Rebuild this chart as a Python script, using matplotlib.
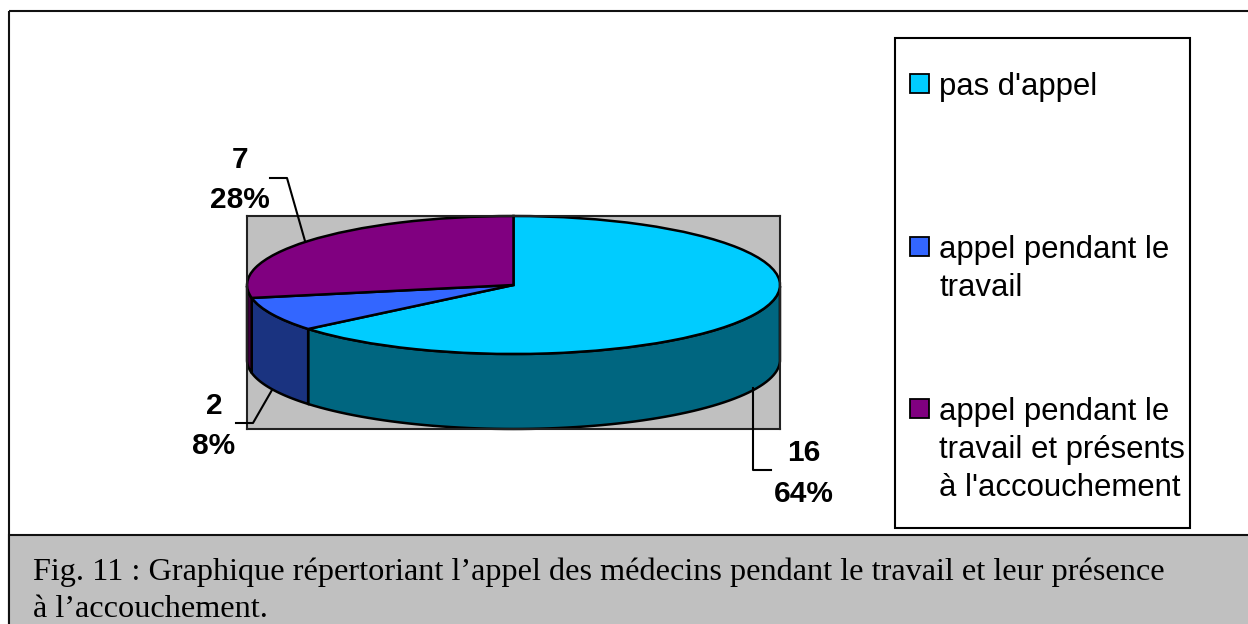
import numpy as np
import matplotlib
matplotlib.use('Agg')
import matplotlib.pyplot as plt
from matplotlib.patches import Rectangle

W, H = 1248, 624

# data
labels = ["pas d'appel", "appel pendant le\ntravail", "appel pendant le\ntravail et présents\nà l'accouchement"]
values = [16, 2, 7]
percents = ['64%', '8%', '28%']
caption = ["Fig. 11 : Graphique répertoriant l’appel des médecins pendant le travail et leur présence",
           "à l’accouchement."]

top_colors = ['#00CCFF', '#3366FF', '#800080']
side_colors = ['#006680', '#1A3380', '#400040']
GRAY = '#C0C0C0'
SANS = 'Liberation Sans'
SERIF = 'Liberation Serif'

fig = plt.figure(figsize=(W / 100, H / 100), dpi=100, facecolor='white')

# pie box in pixels
x0, x1, y0, y1 = 247, 780, 216, 429
cy, ry = 285, 69
depth = 75 / ry
ax = fig.add_axes([x0 / W, 1 - y1 / H, (x1 - x0) / W, (y1 - y0) / H], zorder=1)
ax.pie(values, colors=top_colors, startangle=90, counterclock=False, radius=1,
       wedgeprops={'edgecolor': 'black', 'linewidth': 1.8})
ax.set_aspect('auto')
ax.set_xlim(-1, 1)
ax.set_ylim(-(y1 - cy) / ry, (cy - y0) / ry)
ax.set_frame_on(True)
ax.set_facecolor(GRAY)
for s in ax.spines.values():
    s.set_linewidth(1.5)
    s.set_color('#222222')
ax.set_xticks([])
ax.set_yticks([])

# side wall, visible only on the lower half of the ellipse
start = 90.0
for v, c in zip(values, side_colors):
    end = start - 360.0 * v / sum(values)
    a = np.radians(np.linspace(start, end, 120)) % (2 * np.pi)
    a = a[a >= np.pi]
    if len(a) > 1:
        a = np.sort(a)
        xs = np.cos(a)
        ys = np.sin(a)
        ax.fill(np.r_[xs, xs[::-1]], np.r_[ys, ys[::-1] - depth], facecolor=c,
                edgecolor='black', linewidth=1.8, zorder=0.5, clip_on=False)
    start = end

# everything else, in pixel coordinates
ov = fig.add_axes([0, 0, 1, 1], zorder=2)
ov.set_xlim(0, W)
ov.set_ylim(H, 0)
ov.axis('off')

# outer frame and caption band
ov.add_patch(Rectangle((8.5, 10.5), W, H, facecolor='none', edgecolor='#111111', linewidth=1.5))
ov.add_patch(Rectangle((8.5, 535), W, H, facecolor=GRAY, edgecolor='#111111', linewidth=1.5))
for line, yb in zip(caption, [580, 617]):
    ov.text(33, yb, line, family=SERIF, fontsize=23.2, color='black', va='baseline', ha='left')

# legend box
ov.add_patch(Rectangle((895, 38), 295, 490, facecolor='white', edgecolor='black', linewidth=1.5))
legend_y = [84, 247, 409]
for lab, c, yc in zip(labels, top_colors, legend_y):
    ov.add_patch(Rectangle((909.5, yc - 10), 19, 19, facecolor=c, edgecolor='black', linewidth=1.3))
    for i, part in enumerate(lab.split('\n')):
        ov.text(939, yc + 11 + 38 * i, part, family=SANS, fontsize=22.4, color='black',
                va='baseline', ha='left')

# data labels and leader lines
label_pos = [(804, 453, 494), (214, 406, 446), (240, 160, 200)]
leaders = [([753, 753, 771], [388, 470, 470]),
           ([236, 253, 272], [423, 423, 390]),
           ([270, 287, 305], [178, 178, 241])]
for v, p, (lx, ly1, ly2), (xs, ys) in zip(values, percents, label_pos, leaders):
    ov.plot(xs, ys, color='black', linewidth=1.5)
    ov.text(lx, ly1, str(v), family=SANS, fontsize=21.5, fontweight='bold', ha='center', va='center')
    ov.text(lx, ly2, p, family=SANS, fontsize=21.5, fontweight='bold', ha='center', va='center')

fig.savefig('out.png', dpi=100)
